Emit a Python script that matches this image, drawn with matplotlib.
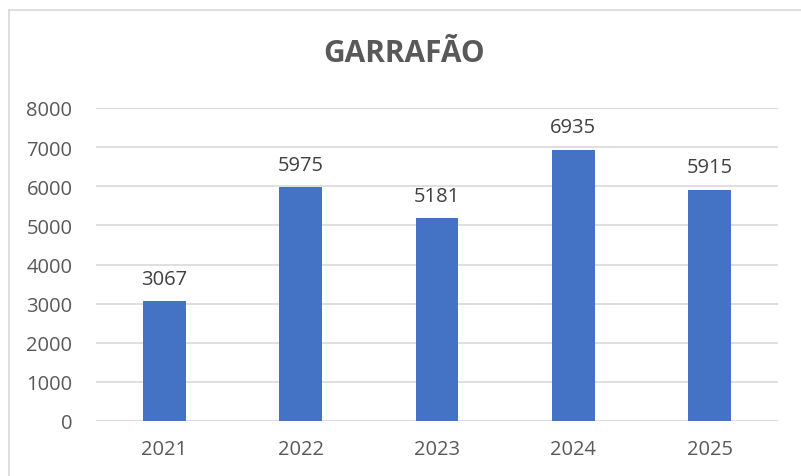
import matplotlib
matplotlib.use("Agg")
import matplotlib.pyplot as plt

years = ["2021", "2022", "2023", "2024", "2025"]
values = [3067, 5975, 5181, 6935, 5915]
title = "GARRAFÃO"

plt.rcParams['font.family'] = ['Open Sans', 'DejaVu Sans']
txt = "#595959"

fig = plt.figure(figsize=(8.01, 4.77), dpi=100)
W, H = 801, 477
ax = fig.add_axes([96 / W, 1 - 422 / H, (778 - 96) / W, (422 - 109) / H])

x = list(range(len(years)))
ax.bar(x, values, width=0.315, color="#4472C4", zorder=3)
for xi, v in zip(x, values):
    ax.annotate(str(v), (xi, v), xytext=(0, 9), textcoords="offset points",
                ha="center", va="bottom", fontsize=14.5, color="#404040")

ax.set_xlim(-0.5, len(years) - 0.5)
ax.set_ylim(0, 8000)
ax.set_yticks(range(0, 8001, 1000))
ax.set_xticks(x)
ax.set_xticklabels(years)
ax.grid(axis="y", color="#D9D9D9", linewidth=1.2, zorder=0)
for s in ax.spines.values():
    s.set_visible(False)
ax.tick_params(axis="both", length=0, labelsize=14.5, colors=txt, labelcolor=txt)
ax.tick_params(axis="y", pad=17)
ax.tick_params(axis="x", pad=13)

fig.text(0.5 * (8 + 801) / W, 1 - 54 / H, title, ha="center", va="center",
         fontsize=21.5, fontweight="bold", color=txt)

# chart border (left and top visible)
fig.add_artist(plt.Line2D([8.5 / W, 8.5 / W], [0, 1 - 10.5 / H], color="#D9D9D9", lw=1.2,
                          transform=fig.transFigure))
fig.add_artist(plt.Line2D([8.5 / W, 1], [1 - 10.5 / H, 1 - 10.5 / H], color="#D9D9D9", lw=1.2,
                          transform=fig.transFigure))

fig.savefig("out.png", dpi=100)
